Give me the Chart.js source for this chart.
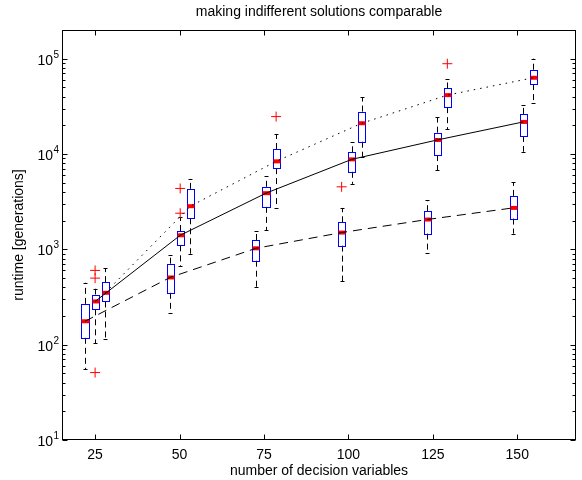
<!DOCTYPE html>
<html>
<head>
<meta charset="utf-8">
<script src="https://cdn.jsdelivr.net/npm/chart.js@4.4.1/dist/chart.umd.min.js"></script>
<style>
  html, body { margin: 0; padding: 0; background: #fff; }
  #wrap { width: 582px; height: 480px; }
</style>
</head>
<body>
<div id="wrap"><canvas id="runtimeChart"></canvas></div>
<script>
// x tick labels (number of decision variables)
const xTicks = [25, 50, 75, 100, 125, 150];
// where the box groups sit on the x axis (they drift a little from the ticks in the original)
const groupCenters = [25, 50.2, 75.6, 101, 126.3, 151.8];
// each series is shifted left / centre / right within a group
const seriesOffsets = [-3, 0, 3];

// boxes per group: [lower whisker, q1, median, q3, upper whisker]
const dashedBoxes = [
  [55, 118, 176, 268, 446],
  [216, 350, 507, 707, 880],
  [405, 760, 1025, 1253, 1559],
  [460, 1094, 1500, 1923, 2722],
  [914, 1462, 2055, 2512, 3258],
  [1462, 2104, 2722, 3637, 5035]
];
const solidBoxes = [
  [103, 235, 284, 336, 386],
  [662, 1102, 1404, 1559, 2188],
  [1585, 2789, 3884, 4528, 5867],
  [4865, 6510, 8790, 10420, 13280],
  [6730, 9760, 14040, 16760, 24340],
  [10570, 15470, 21710, 26370, 32570]
];
const dottedBoxes = [
  [116, 284, 350, 453, 636],
  [901, 2120, 2836, 4313, 5495],
  [2700, 7120, 8380, 11290, 16240],
  [9370, 13460, 21040, 27880, 39530],
  [18200, 31030, 41480, 48700, 61120],
  [34670, 54170, 63100, 76580, 100000]
];

// outliers: group index, series index, value
const outlierGroup  = [0, 0, 0, 1, 1, 2, 3, 4];
const outlierSeries = [1, 1, 1, 1, 1, 2, 0, 2];
const outlierValue  = [601, 499, 51, 4354, 2393, 24700, 4528, 88600];

// y axis decades
const yDecades = [1, 2, 3, 4, 5];

const allBoxes = [dashedBoxes, solidBoxes, dottedBoxes];
const FONT = "'Liberation Sans', Arial, Helvetica, sans-serif";

function medianLine(s) {
  return allBoxes[s].map((b, g) => ({ x: groupCenters[g] + seriesOffsets[s], y: b[2] }));
}

const outlierPoints = outlierValue.map((v, i) => ({
  x: groupCenters[outlierGroup[i]] + seriesOffsets[outlierSeries[i]],
  y: v
}));

// boxplots: whiskers, caps, blue box, red median
const boxPlugin = {
  id: 'boxes',
  beforeDatasetsDraw(chart) {
    const ctx = chart.ctx;
    const xs = chart.scales.x, ys = chart.scales.y;
    ctx.save();
    allBoxes.forEach((boxes, s) => {
      boxes.forEach((b, g) => {
        const pos = groupCenters[g] + seriesOffsets[s];
        const cx = Math.round(xs.getPixelForValue(pos)) + 0.5;
        const left = Math.round(xs.getPixelForValue(pos - 1.05)) + 0.5;
        const right = Math.round(xs.getPixelForValue(pos + 1.05)) + 0.5;
        const lo = ys.getPixelForValue(b[0]);
        const q1 = ys.getPixelForValue(b[1]);
        const med = ys.getPixelForValue(b[2]);
        const q3 = ys.getPixelForValue(b[3]);
        const hi = ys.getPixelForValue(b[4]);

        // dashed whiskers
        ctx.strokeStyle = '#000';
        ctx.lineWidth = 1;
        ctx.setLineDash([6, 4]);
        ctx.beginPath();
        ctx.moveTo(cx, q3); ctx.lineTo(cx, hi);
        ctx.moveTo(cx, q1); ctx.lineTo(cx, lo);
        ctx.stroke();
        ctx.setLineDash([]);

        // caps
        ctx.beginPath();
        ctx.moveTo(cx - 2, Math.round(hi) + 0.5); ctx.lineTo(cx + 2, Math.round(hi) + 0.5);
        ctx.moveTo(cx - 2, Math.round(lo) + 0.5); ctx.lineTo(cx + 2, Math.round(lo) + 0.5);
        ctx.stroke();

        // box
        ctx.strokeStyle = '#0000ff';
        ctx.strokeRect(left, Math.round(q3) + 0.5, right - left, Math.round(q1) - Math.round(q3));

        // median
        ctx.fillStyle = '#ff0000';
        ctx.fillRect(left, med - 2, right - left, 4);
      });
    });
    ctx.restore();
  }
};

// frame, inward ticks and 10^n labels
const framePlugin = {
  id: 'frame',
  afterDraw(chart) {
    const ctx = chart.ctx;
    const a = chart.chartArea;
    const xs = chart.scales.x, ys = chart.scales.y;
    const L = Math.round(a.left) + 0.5, R = Math.round(a.right) - 0.5;
    const T = Math.round(a.top) + 0.5, B = Math.round(a.bottom) - 0.5;
    ctx.save();
    ctx.strokeStyle = '#000';
    ctx.lineWidth = 1;
    ctx.strokeRect(L, T, R - L, B - T);

    ctx.beginPath();
    xTicks.forEach(v => {
      const px = Math.round(xs.getPixelForValue(v)) + 0.5;
      ctx.moveTo(px, B); ctx.lineTo(px, B - 5);
      ctx.moveTo(px, T); ctx.lineTo(px, T + 5);
    });
    yDecades.forEach(d => {
      for (let m = 1; m <= 9; m++) {
        const v = m * Math.pow(10, d);
        if (v > ys.max) break;
        const py = Math.round(ys.getPixelForValue(v)) + 0.5;
        const len = m === 1 ? 5 : 3;
        ctx.moveTo(L, py); ctx.lineTo(L + len, py);
        ctx.moveTo(R, py); ctx.lineTo(R - len, py);
      }
    });
    ctx.stroke();

    ctx.fillStyle = '#000';
    yDecades.forEach(d => {
      const py = ys.getPixelForValue(Math.pow(10, d));
      ctx.font = '14px ' + FONT;
      ctx.textAlign = 'right';
      ctx.textBaseline = 'middle';
      ctx.fillText('10', 53, py + 2);
      ctx.font = '10px ' + FONT;
      ctx.textAlign = 'left';
      ctx.textBaseline = 'alphabetic';
      ctx.fillText(String(d), 53.5, py - 1);
    });
    ctx.restore();
  }
};

const lineBase = { showLine: true, pointRadius: 0, borderColor: '#000', borderWidth: 1, fill: false };

new Chart(document.getElementById('runtimeChart'), {
  type: 'scatter',
  data: {
    datasets: [
      Object.assign({ data: medianLine(0), borderDash: [9, 6] }, lineBase),
      Object.assign({ data: medianLine(1) }, lineBase),
      Object.assign({ data: medianLine(2), borderDash: [1.5, 5] }, lineBase),
      {
        data: outlierPoints,
        showLine: false,
        pointStyle: 'cross',
        pointRadius: 5,
        pointBorderColor: '#ff0000',
        pointBorderWidth: 1,
        borderColor: '#ff0000'
      }
    ]
  },
  options: {
    responsive: true,
    maintainAspectRatio: false,
    animation: false,
    layout: { padding: { left: 0, right: 1, top: 0, bottom: 0 } },
    plugins: {
      legend: { display: false },
      tooltip: { enabled: false },
      title: {
        display: true,
        text: 'making indifferent solutions comparable',
        fullSize: false,
        color: '#000',
        font: { family: FONT, size: 14, weight: 'normal' },
        padding: { top: 4, bottom: 9.2 }
      }
    },
    scales: {
      x: {
        type: 'linear',
        min: 15.2,
        max: 167.4,
        grid: { display: false, drawTicks: false },
        border: { display: false },
        afterBuildTicks(scale) { scale.ticks = xTicks.map(v => ({ value: v })); },
        afterFit(scale) { scale.height = 40; },
        ticks: {
          color: '#000',
          autoSkip: false,
          maxRotation: 0,
          padding: 7,
          font: { family: FONT, size: 14 }
        },
        title: {
          display: true,
          text: 'number of decision variables',
          color: '#000',
          font: { family: FONT, size: 14 },
          padding: { top: 0, bottom: 0 }
        }
      },
      y: {
        type: 'logarithmic',
        min: 10,
        max: 200000,
        grid: { display: false, drawTicks: false },
        border: { display: false },
        ticks: { display: false },
        afterFit(scale) { scale.width = 62; },
        title: {
          display: true,
          text: 'runtime [generations]',
          color: '#000',
          font: { family: FONT, size: 14 },
          padding: { top: 11, bottom: 0 }
        }
      }
    }
  },
  plugins: [boxPlugin, framePlugin]
});
</script>
</body>
</html>
